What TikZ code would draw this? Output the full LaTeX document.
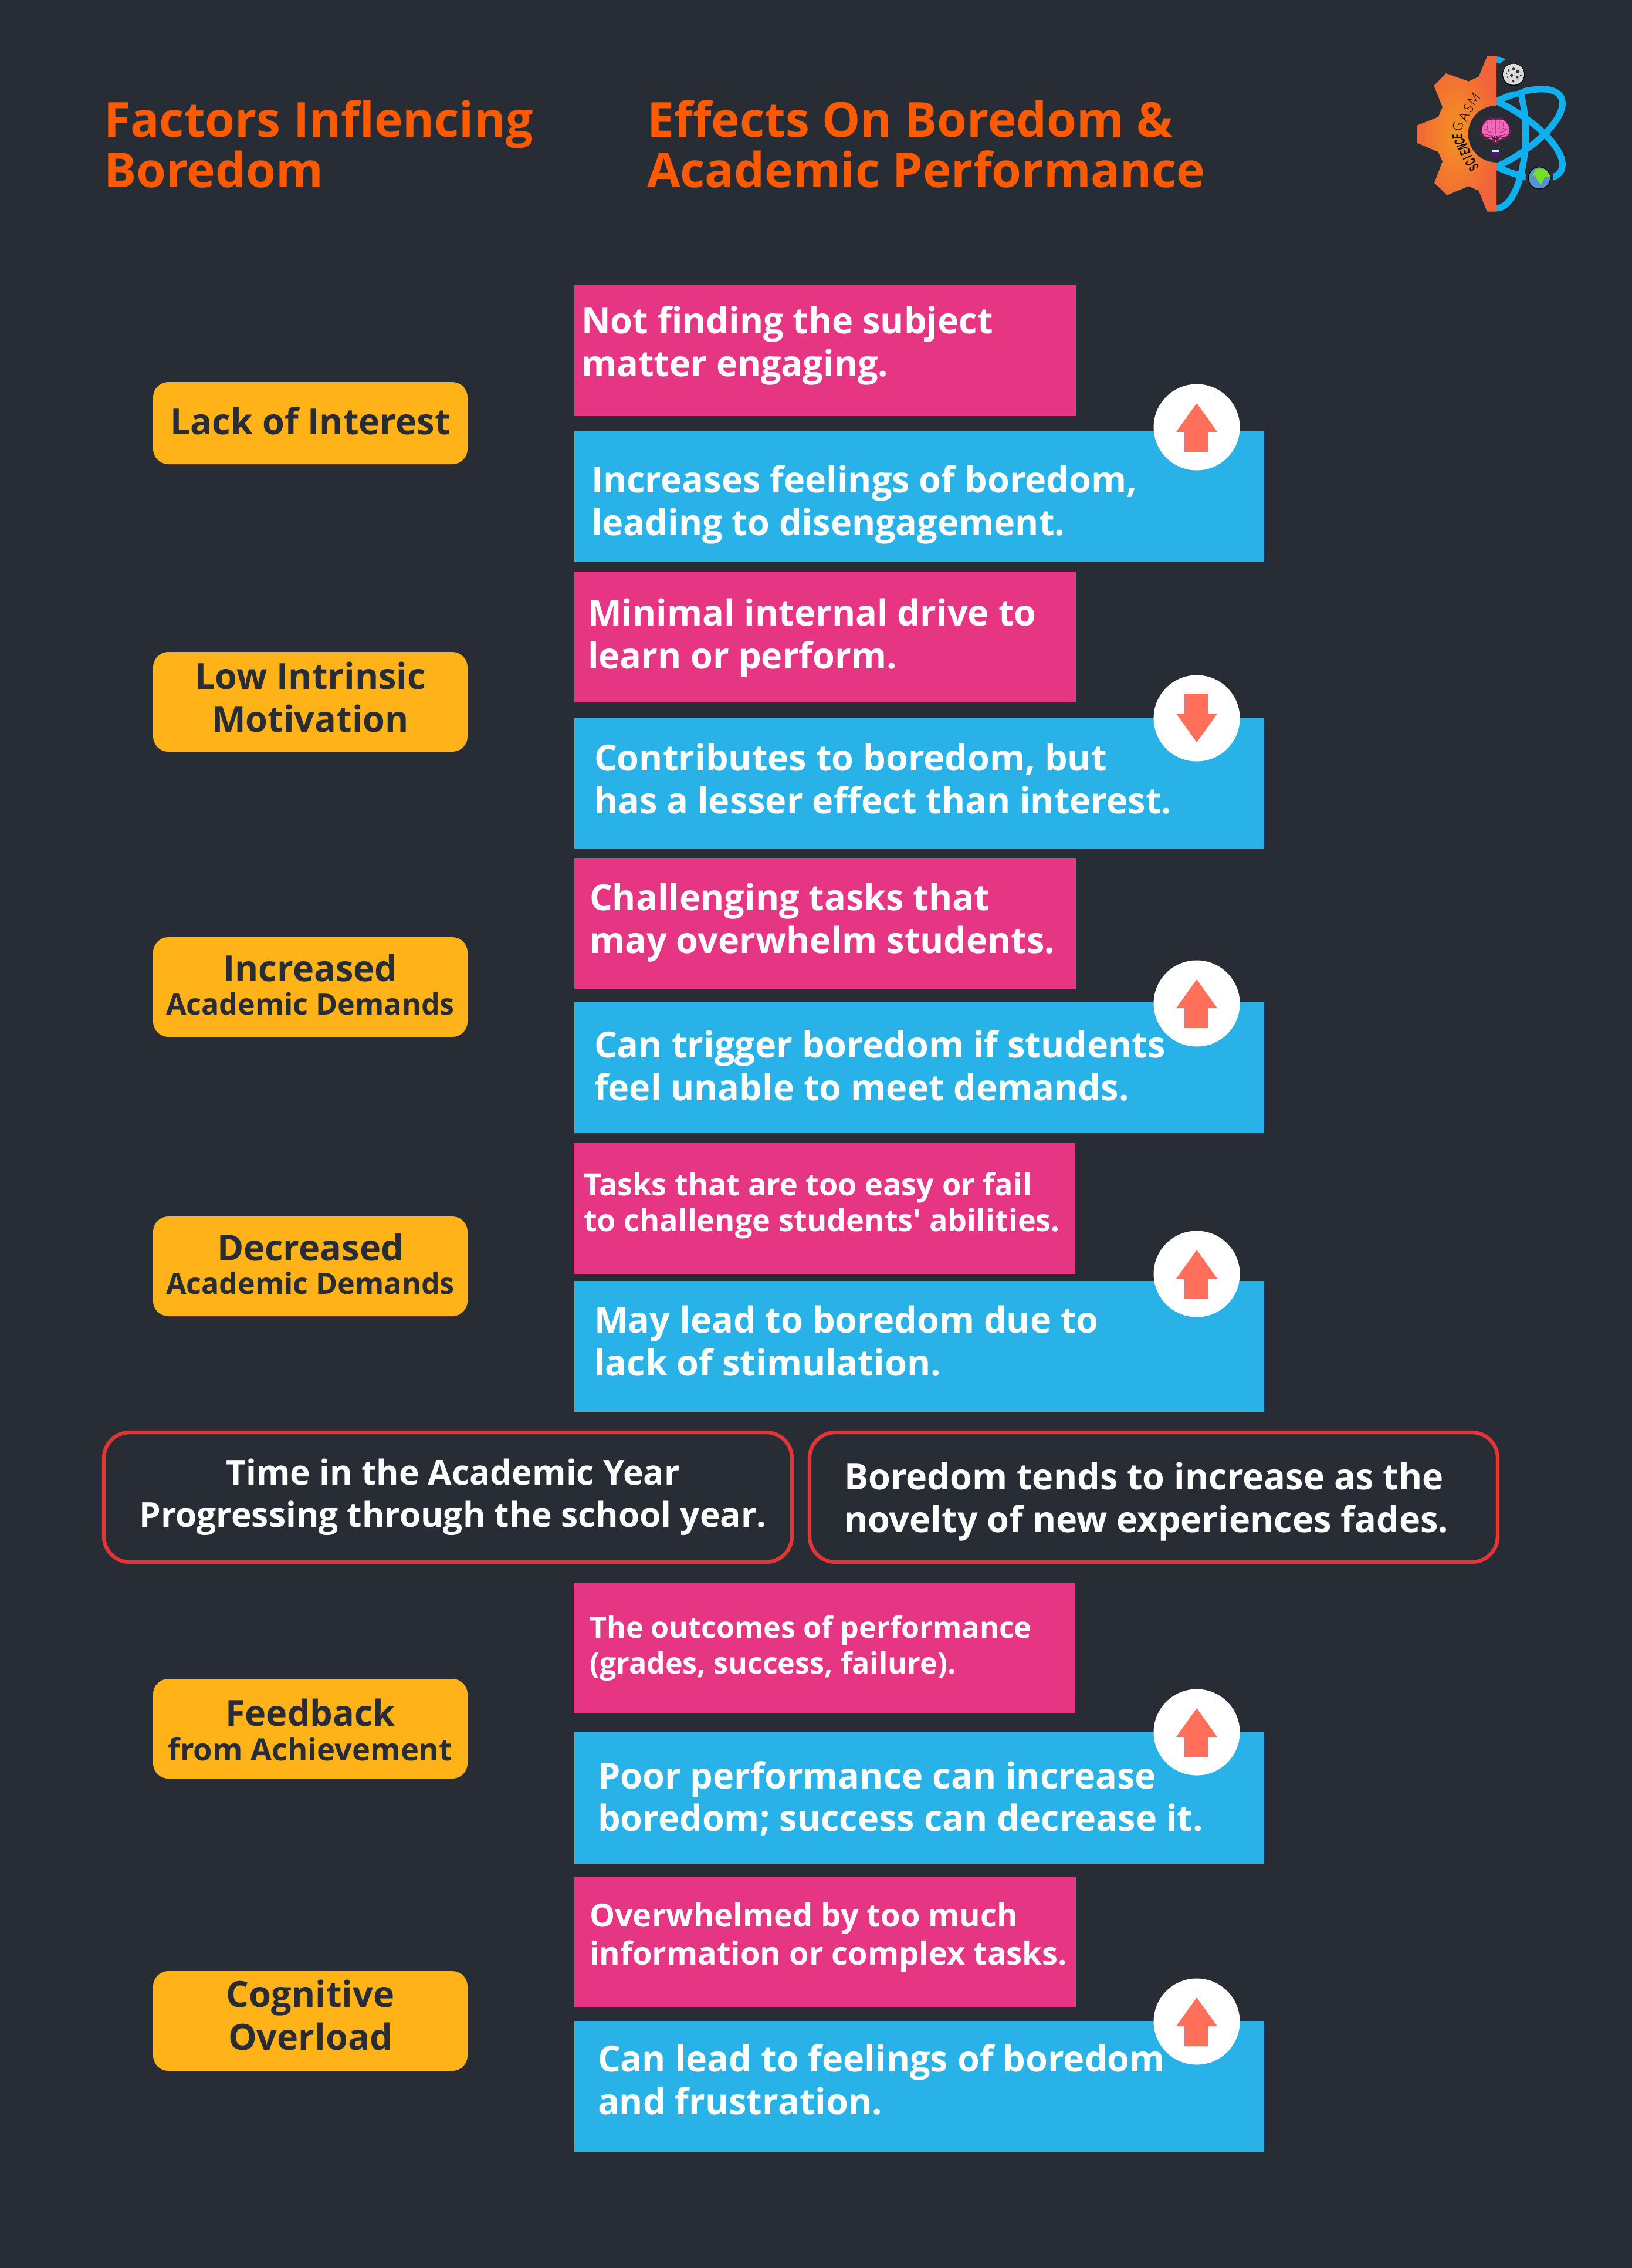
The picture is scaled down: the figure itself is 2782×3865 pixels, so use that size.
\documentclass[tikz,border=0pt]{standalone}
\usepackage{fontspec}
\setmainfont{Open Sans}
\newfontfamily\plainos{Open Sans}
\newfontfamily\logofont{Liberation Sans}
\newfontfamily\logolight{Lato}[UprightFont=* Light]
\definecolor{bgc}{HTML}{282D35}
\definecolor{pinkc}{HTML}{E63583}
\definecolor{bluec}{HTML}{29B2E8}
\definecolor{amberc}{HTML}{FFB319}
\definecolor{redc}{HTML}{E23636}
\definecolor{arrowc}{HTML}{FF6F59}
\definecolor{titlec}{HTML}{FF5A00}
\definecolor{orbitc}{HTML}{0FB0F0}
\definecolor{gearin}{HTML}{F3941F}
\definecolor{gearout}{HTML}{F2653A}
\tikzset{
  boxbase/.style={inner sep=0pt,outer sep=0pt,anchor=center},
  pinkbox/.style={boxbase,fill=pinkc},
  bluebox/.style={boxbase,fill=bluec},
  amberbox/.style={boxbase,fill=amberc,rounded corners=13pt},
  redbox/.style={boxbase,draw=redc,line width=3.2pt,rounded corners=22pt},
  disc/.style={circle,fill=white,inner sep=0pt,minimum size=73.5pt},
  lbl/.style={inner sep=0pt,outer sep=0pt,anchor=west,align=left,text=white,font=\bfseries},
  ttl/.style={lbl,text=titlec,font=\bfseries\fontsize{41.1}{43}\selectfont},
  amb/.style={inner sep=0pt,outer sep=0pt,anchor=center,align=center,text=bgc,font=\bfseries},
  orbit/.style={draw=orbitc,line width=5.5pt},
  ray/.style={draw=pinkc!45!black,line width=0.25pt},
  fold/.style={draw=pinkc!70!black,line width=0.35pt,line cap=round},
}
\newcommand{\fsA}{\fontsize{30.6}{36.2}\selectfont}
\newcommand{\fsR}{\fontsize{29.3}{36.2}\selectfont}
\newcommand{\fsD}{\fontsize{26.1}{30.5}\selectfont}
\newcommand{\fsB}{\fontsize{25.1}{30.5}\selectfont}
\newcommand{\fsC}{\fontsize{27.1}{32.5}\selectfont}
\newcommand{\fsE}{\fontsize{26.2}{30.5}\selectfont}
% \bx{style}{name}{l}{t}{r}{b}
\newcommand{\bx}[6]{\node[#1,minimum width={(#5-#3)*0.5pt},minimum height={(#6-#4)*0.5pt}] (#2) at ({(#3+#5)/2},{(#4+#6)/2}) {};}
\newcommand{\updisc}[3]{\node[disc] (#1) at (#2,#3) {};
  \fill[arrowc] (#2,#3-41) -- (#2+35,#3+8) -- (#2+19,#3+8) -- (#2+19,#3+42) -- (#2-21,#3+42) -- (#2-21,#3+8) -- (#2-35,#3+8) -- cycle;}
\newcommand{\downdisc}[3]{\node[disc] (#1) at (#2,#3) {};
  \fill[arrowc] (#2,#3+41) -- (#2+35,#3-8) -- (#2+19,#3-8) -- (#2+19,#3-42) -- (#2-21,#3-42) -- (#2-21,#3-8) -- (#2-35,#3-8) -- cycle;}
\newcommand{\lettr}[4]{\node[inner sep=0pt,text=black,rotate=#4] at (#1,#2) {\logofont\bfseries\fontsize{12.5}{12.5}\selectfont\scalebox{0.5}[1]{#3}};}
\newcommand{\lettl}[4]{\node[inner sep=0pt,text=black,rotate=#4] at (#1,#2) {\logolight\fontsize{11.6}{11.6}\selectfont\scalebox{0.9}[1]{#3}};}
\begin{document}
\begin{tikzpicture}[x=0.5pt,y=-0.5pt]
\useasboundingbox (0,0) rectangle (2782,3865);
\fill[bgc] (0,0) rectangle (2782,3865);
% titles
\node[ttl] (t1) at (177,245) {Factors Inflencing\\Boredom};
\node[ttl] (t2) at (1103,245) {Effects On Boredom \&\\Academic Performance};
% row boxes
\bx{pinkbox}{p1}{979}{486}{1834}{709}
\bx{bluebox}{b1}{979}{735}{2155}{958}
\bx{pinkbox}{p2}{979}{974}{1834}{1197}
\bx{bluebox}{b2}{979}{1224}{2155}{1446}
\bx{pinkbox}{p3}{979}{1463}{1834}{1686}
\bx{bluebox}{b3}{979}{1708}{2155}{1931}
\bx{pinkbox}{p4}{978}{1948}{1833}{2171}
\bx{bluebox}{b4}{979}{2183}{2155}{2406}
\bx{pinkbox}{p5}{978}{2697}{1833}{2920}
\bx{bluebox}{b5}{979}{2952}{2155}{3176}
\bx{pinkbox}{p6}{979}{3198}{1834}{3421}
\bx{bluebox}{b6}{979}{3444}{2155}{3668}
% row labels
\node[lbl,font=\bfseries\fsA] (lp1) at (991,589) {Not finding the subject\\matter engaging.};
\node[lbl,font=\bfseries\fsA] (lb1) at (1008,860) {Increases feelings of boredom,\\leading to disengagement.};
\node[lbl,font=\bfseries\fsA] (lp2) at (1002,1087) {Minimal internal drive to\\learn or perform.};
\node[lbl,font=\bfseries\fsA] (lb2) at (1013,1327) {Contributes to boredom, but\\has a lesser effect than interest.};
\node[lbl,font=\bfseries\fsA] (lp3) at (1005,1572) {Challenging tasks that\\may overwhelm students.};
\node[lbl,font=\bfseries\fsA] (lb3) at (1013,1816) {Can trigger boredom if students\\feel unable to meet demands.};
\node[lbl,font=\bfseries\fsD] (lp4) at (995,2054) {Tasks that are too easy or fail\\to challenge students{\plainos\bfseries '} abilities.};
\node[lbl,font=\bfseries\fsA] (lb4) at (1013,2285) {May lead to boredom due to\\lack of stimulation.};
\node[lbl,font=\bfseries\fsB] (lp5) at (1005,2809) {The outcomes of performance\\(grades, success, failure).};
\node[lbl,font=\bfseries\fsA] (lb5) at (1019,3065) {Poor performance can increase\\boredom; success can decrease it.};
\node[lbl,font=\bfseries\fsC] (lp6) at (1005,3302) {Overwhelmed by too much\\information or complex tasks.};
\node[lbl,font=\bfseries\fsA] (lb6) at (1019,3544) {Can lead to feelings of boredom\\and frustration.};
% discs and arrows
\updisc{d1}{2040}{728}
\downdisc{d2}{2040}{1224}
\updisc{d3}{2040}{1710}
\updisc{d4}{2040}{2171}
\updisc{d5}{2040}{2952}
\updisc{d6}{2040}{3445}
% amber factors
\bx{amberbox}{a1}{261}{651}{797}{791}
\bx{amberbox}{a2}{261}{1111}{797}{1281}
\bx{amberbox}{a3}{261}{1597}{797}{1767}
\bx{amberbox}{a4}{261}{2073}{797}{2243}
\bx{amberbox}{a5}{261}{2861}{797}{3031}
\bx{amberbox}{a6}{261}{3359}{797}{3529}
\node[amb,font=\bfseries\fsA] (ta1) at (529,717) {Lack of Interest};
\node[amb,font=\bfseries\fsA] (ta2) at (529,1188) {Low Intrinsic\\Motivation};
\node[amb] (ta3) at (529,1678) {\fsA Increased\\[8.5pt]\fsB Academic Demands};
\node[amb] (ta4) at (529,2154) {\fsA Decreased\\[8.5pt]\fsB Academic Demands};
\node[amb] (ta5) at (529,2948) {\fsA Feedback\\[8.5pt]\fsE from Achievement};
\node[amb,font=\bfseries\fsA] (ta6) at (529,3434) {Cognitive\\Overload};
% middle outlined boxes
\bx{redbox}{r1}{177}{2441}{1350}{2662}
\bx{redbox}{r2}{1380}{2441}{2553}{2662}
\node[lbl,anchor=center,align=center,font=\bfseries\fsR] (tr1) at (772,2551) {Time in the Academic Year\\Progressing through the school year.};
\node[lbl,font=\bfseries\fsA] (tr2) at (1439,2559) {Boredom tends to increase as the\\novelty of new experiences fades.};
% logo
\begin{scope}[shift={(2350,60)},x=0.16667pt,y=-0.16667pt]
  \shade[inner color=gearin,outer color=gearout]
    (603,108) -- (555,108) -- (512,212) -- (460,236) -- (345,195) -- (283,258) -- (327,368) -- (305,418) -- (195,462) -- (195,550) -- (305,597) -- (327,645) -- (285,755) -- (350,818) -- (460,772) -- (512,795) -- (555,902) -- (603,902) -- cycle;
  \fill[bgc] (603,505) circle [radius=24.2pt];
  % orbits
  \begin{scope}
    \clip (603,0) rectangle (1060,960);
    \draw[orbit] (603,505) circle [x radius=63.3pt,y radius=24.8pt,rotate=30];
    \draw[orbit] (603,505) circle [x radius=63.3pt,y radius=24.8pt,rotate=-30];
    \draw[orbit] (603,505) circle [x radius=24.8pt,y radius=63.3pt];
  \end{scope}
  % moon
  \fill[bgc] (690,200) circle [radius=14.5pt];
  \fill[black] (690,202) circle [radius=9.6pt];
  \fill[gray!30] (690,200) circle [radius=9pt];
  \foreach \cx/\cy/\cr in {665/180/.9,690/172/1.1,712/185/1.5,680/205/1.3,710/215/1,660/215/.8,688/235/1,727/205/.8,655/195/.6}
    \fill[black!80] (\cx,\cy) circle [radius=\cr pt];
  % earth
  \fill[bgc] (822,730) circle [radius=11.8pt];
  \fill[black] (822,730) circle [radius=9.6pt];
  \fill[cyan!55!blue!70!white] (822,730) circle [radius=9pt];
  \fill[green!55!yellow!75!gray] (800,690) .. controls (830,670) and (870,690) .. (877,722) -- (850,725) -- (830,765) -- (815,745) -- (800,715) -- (785,725) -- cycle;
  % brain rays
  \draw[ray] (598,390) -- (598,418) (667,415) -- (645,437) (712,485) -- (682,485) (690,562) -- (668,540) (508,562) -- (528,540) (488,485) -- (516,485) (522,415) -- (545,437);
  \draw[ray] (565,552) -- (582,585) (632,552) -- (615,585);
  % brain
  \fill[pinkc!75!magenta!70!white,draw=pinkc!50!black,line width=0.4pt,rounded corners=6pt]
    (598,430) -- (570,422) -- (540,440) -- (523,478) -- (527,512) -- (550,530) -- (578,520) -- (590,542) -- (598,530) -- (606,542) -- (620,520) -- (648,530) -- (670,512) -- (675,478) -- (655,440) -- (626,422) -- cycle;
  \draw[fold] (598,430) -- (598,505) (555,445) .. controls (570,460) and (545,465) .. (560,480) (535,480) .. controls (560,475) and (550,500) .. (580,495) (575,440) .. controls (590,460) and (570,470) .. (585,480) (640,445) .. controls (625,460) and (650,465) .. (635,480) (662,480) .. controls (640,475) and (650,500) .. (618,495) (622,440) .. controls (608,460) and (628,470) .. (612,480) (540,510) .. controls (555,500) and (565,520) .. (580,510) (658,510) .. controls (643,500) and (633,520) .. (618,510);
  % bulb
  \fill[white!80!cyan] (582,585) rectangle (615,598);
  \fill[gray!70] (582,590) rectangle (615,593);
  \fill[violet!80!blue] (582,598) -- (615,598) -- (613,615) -- (598,624) -- (584,615) -- cycle;
  % logo words
  \lettr{487}{678}{S}{124}
  \lettr{470}{650}{C}{118}
  \lettr{456}{625}{I}{114}
  \lettr{442}{600}{E}{110}
  \lettr{428}{573}{N}{106}
  \lettr{415}{545}{C}{100}
  \lettr{403}{518}{E}{94}
  \lettl{405}{468}{G}{80}
  \lettl{435}{415}{A}{65}
  \lettl{460}{372}{S}{58}
  \lettl{488}{328}{M}{52}
\end{scope}
\end{tikzpicture}
\end{document}
